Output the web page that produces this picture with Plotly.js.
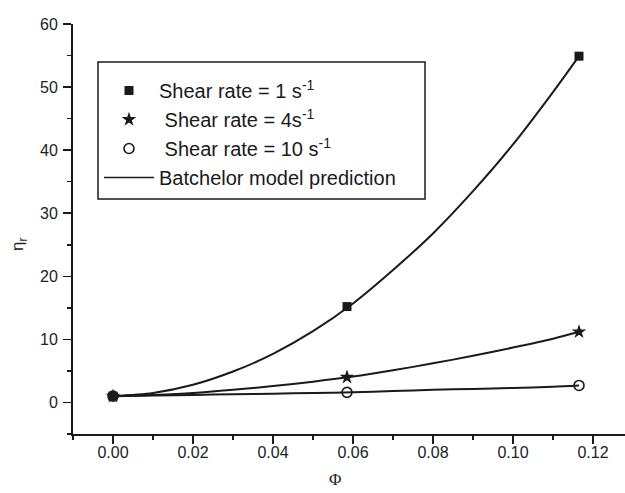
<!DOCTYPE html>
<html>
<head>
<meta charset="utf-8">
<script src="https://cdn.plot.ly/plotly-3.0.1.min.js"></script>
<style>html,body{margin:0;padding:0;background:#fff;}#chart{width:625px;height:493px;}</style>
</head>
<body>
<div id="chart"></div>
<script>
// Measured points: volume fraction Φ and relative viscosity η_r per shear rate
var phi = [0, 0.0585, 0.1165];
var eta1 = [1.0, 15.2, 54.9];
var eta4 = [1.0, 4.0, 11.2];
var eta10 = [1.0, 1.6, 2.7];
// Model curves
var modelPhi = [0, 0.01, 0.02, 0.03, 0.04, 0.05, 0.06, 0.07, 0.08, 0.09, 0.10, 0.11, 0.1165];
var model1 = [1.0, 1.5, 2.8, 4.9, 7.7, 11.3, 15.7, 21.0, 26.8, 33.5, 40.9, 49.2, 54.9];
var model4 = [1.0, 1.2, 1.5, 2.0, 2.6, 3.3, 4.1, 5.1, 6.2, 7.4, 8.7, 10.1, 11.2];
var model10 = [1.0, 1.1, 1.2, 1.3, 1.4, 1.5, 1.6, 1.8, 2.0, 2.15, 2.3, 2.5, 2.7];
var seriesNames = ["Shear rate = 1 s<sup>-1</sup>", "\u00a0Shear rate = 4s<sup>-1</sup>", "\u00a0Shear rate = 10 s<sup>-1</sup>"];
var modelName = "Batchelor model prediction";
var xTickVals = [0, 0.02, 0.04, 0.06, 0.08, 0.10, 0.12];
var xTickText = ["0.00", "0.02", "0.04", "0.06", "0.08", "0.10", "0.12"];
var yTickVals = [0, 10, 20, 30, 40, 50, 60];

var lineStyle = {color: '#1a1a1a', width: 2, shape: 'spline', smoothing: 0.8};
var traces = [
  {x: modelPhi, y: model1, mode: 'lines', line: lineStyle, name: modelName, showlegend: false, hoverinfo: 'skip'},
  {x: modelPhi, y: model4, mode: 'lines', line: lineStyle, name: modelName, showlegend: false, hoverinfo: 'skip'},
  {x: modelPhi, y: model10, mode: 'lines', line: lineStyle, name: modelName, showlegend: false, hoverinfo: 'skip'},
  {x: phi, y: eta1, mode: 'markers', name: seriesNames[0], marker: {symbol: 'square', size: 9, color: '#1a1a1a'}},
  {x: phi, y: eta4, mode: 'markers', name: seriesNames[1], marker: {symbol: 'star', size: 11, color: '#1a1a1a'}},
  {x: phi, y: eta10, mode: 'markers', name: seriesNames[2], marker: {symbol: 'circle-open', size: 10, color: '#1a1a1a', line: {width: 1.6, color: '#1a1a1a'}}},
  {x: [null], y: [null], mode: 'lines', line: {color: '#1a1a1a', width: 1.5}, name: modelName}
];

var L = 73, R = 0, T = 24, B = 59;
var W = 625, H = 493;
var pw = W - L - R, ph = H - T - B;
function px(x){ return (x - L) / pw; }
function py(y){ return 1 - (y - T) / ph; }

var axFont = {family: 'Liberation Sans, Arial, sans-serif', size: 16, color: '#222'};
var layout = {
  width: W, height: H,
  margin: {l: L, r: R, t: T, b: B, pad: 0},
  paper_bgcolor: '#fff', plot_bgcolor: '#fff',
  showlegend: true,
  xaxis: {
    range: [-0.01, 0.128], tickmode: 'array', tickvals: xTickVals, ticktext: xTickText,
    ticks: 'outside', ticklen: 8, tickwidth: 1.5, tickcolor: '#1a1a1a',
    minor: {dtick: 0.01, tick0: 0, ticks: 'outside', ticklen: 4, tickwidth: 1.5, tickcolor: '#1a1a1a', showgrid: false},
    showline: true, linecolor: '#1a1a1a', linewidth: 2, showgrid: false, zeroline: false,
    tickfont: axFont, ticklabelstandoff: -5
  },
  yaxis: {
    range: [-5, 60], tickmode: 'array', tickvals: yTickVals,
    ticks: 'outside', ticklen: 8, tickwidth: 1.5, tickcolor: '#1a1a1a',
    minor: {dtick: 5, tick0: 0, ticks: 'outside', ticklen: 4, tickwidth: 1.5, tickcolor: '#1a1a1a', showgrid: false},
    showline: true, linecolor: '#1a1a1a', linewidth: 2, showgrid: false, zeroline: false,
    tickfont: axFont, ticklabelstandoff: 2
  },
  legend: {
    x: px(99), y: py(71), xanchor: 'left', yanchor: 'top',
    bgcolor: 'rgba(0,0,0,0)', borderwidth: 0, itemwidth: 50,
    font: {family: 'Liberation Sans, Arial, sans-serif', size: 20, color: '#1a1a1a'},
    tracegroupgap: 0
  },
  shapes: [
    {type: 'rect', xref: 'paper', yref: 'paper', x0: px(98), x1: px(425), y0: py(199), y1: py(62),
     line: {color: '#1a1a1a', width: 1.5}, fillcolor: 'rgba(0,0,0,0)'}
  ],
  annotations: [
    {xref: 'paper', yref: 'paper', x: px(335), y: py(479), text: 'Φ', showarrow: false,
     font: {family: 'Liberation Serif, Times New Roman, serif', size: 17, color: '#222'}, xanchor: 'center', yanchor: 'middle'},
    {xref: 'paper', yref: 'paper', x: px(19), y: py(245), text: 'η<sub>r</sub>', showarrow: false, textangle: -90,
     font: {family: 'Liberation Sans, Arial, sans-serif', size: 17, color: '#222'}, xanchor: 'center', yanchor: 'middle'}
  ]
};

Plotly.newPlot('chart', traces, layout, {staticPlot: true, displayModeBar: false});
</script>
</body>
</html>
